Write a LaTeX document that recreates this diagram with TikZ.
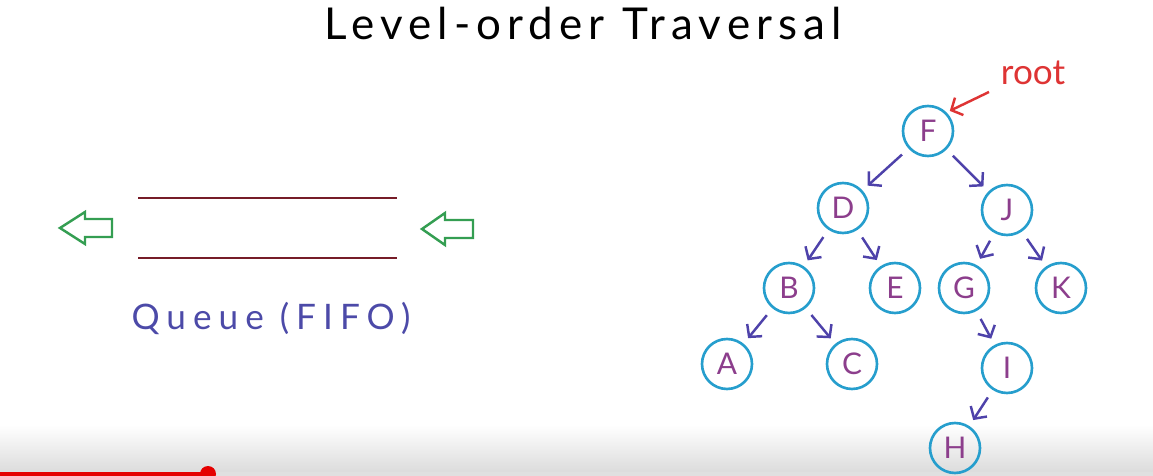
\documentclass[tikz,border=0pt]{standalone}
\usepackage{fontspec}
\setmainfont{Lato}
\newfontfamily\titlefont[LetterSpace=14]{Lato}
\newfontfamily\queuefont[LetterSpace=20]{Lato}
\usetikzlibrary{arrows.meta,positioning}
\definecolor{ringblue}{RGB}{38,158,205}
\definecolor{letterpurple}{RGB}{140,62,140}
\definecolor{edgeindigo}{RGB}{78,66,170}
\definecolor{queuered}{RGB}{118,28,40}
\definecolor{flowgreen}{RGB}{52,158,82}
\definecolor{labelblue}{RGB}{76,74,168}
\definecolor{rootred}{RGB}{222,52,52}

\begin{document}
\begin{tikzpicture}[
        x=0.02cm, y=-0.02cm, % pixel grid
        treenode/.style={circle, draw=ringblue, line width=1.5pt, minimum size=1cm, inner sep=0pt, text=letterpurple, font=\fontsize{17}{17}\selectfont},
        edge/.style={draw=edgeindigo, line width=1.4pt, -{Straight Barb[length=5pt,width=11pt]}, shorten <=5pt, shorten >=4pt},
        rootarrow/.style={draw=rootred, line width=1.4pt, -{Straight Barb[length=5pt,width=11pt]}, shorten >=2pt},
        queueline/.style={draw=queuered, line width=1.5pt},
        hollowarrow/.style={draw=flowgreen, line width=1.4pt, line join=miter}
    ]
    \useasboundingbox (0,0) rectangle (1153,476);

    % player bar at the bottom
    \fill[top color=white, bottom color=black!15] (0,425) rectangle (1153,476);
    \fill[black!12] (208,472) rectangle (1153,476);
    \fill[red!90!black] (0,472) rectangle (208,476);
    \fill[red!90!black] (208,474) circle (8);

    % title
    \node (title) at (583,24) {\titlefont\fontsize{25}{25}\selectfont Level-order Traversal};

    % queue
    \draw[queueline] (138,198) -- (397,198);
    \draw[queueline] (138,258) -- (397,258);
    \node (queue) at (271,318) [text=labelblue] {\queuefont\fontsize{20}{20}\selectfont Queue (FIFO)};
    \draw[hollowarrow] (112,219) -- (85,219) -- (85,212) -- (60,228) -- (85,244) -- (85,237) -- (112,237) -- cycle;
    \draw[hollowarrow] (473,220) -- (445,220) -- (445,213) -- (422,229) -- (445,245) -- (445,238) -- (473,238) -- cycle;

    % tree nodes
    \node (F) [treenode] at (928,131) {F};
    \node (D) [treenode] at (843,208) {D};
    \node (J) [treenode] at (1007,210) {J};
    \node (B) [treenode] at (789,288) {B};
    \node (E) [treenode] at (895,288) {E};
    \node (G) [treenode] at (964,288) {G};
    \node (K) [treenode] at (1061,288) {K};
    \node (A) [treenode] at (727,364) {A};
    \node (C) [treenode] at (852,364) {C};
    \node (I) [treenode] at (1007,368) {I};
    \node (H) [treenode] at (955,448) {H};

    % tree edges
    \draw[edge] (F) -- (D);
    \draw[edge] (F) -- (J);
    \draw[edge] (D) -- (B);
    \draw[edge] (D) -- (E);
    \draw[edge] (J) -- (G);
    \draw[edge] (J) -- (K);
    \draw[edge] (B) -- (A);
    \draw[edge] (B) -- (C);
    \draw[edge] (G) -- (I);
    \draw[edge] (I) -- (H);

    % root pointer
    \node (rootlabel) at (1033,73) [text=rootred, font=\fontsize{20}{20}\selectfont] {root};
    \coordinate (rootstart) at (989,92);
    \draw[rootarrow] (rootstart) -- (F.north east);
\end{tikzpicture}
\end{document}
